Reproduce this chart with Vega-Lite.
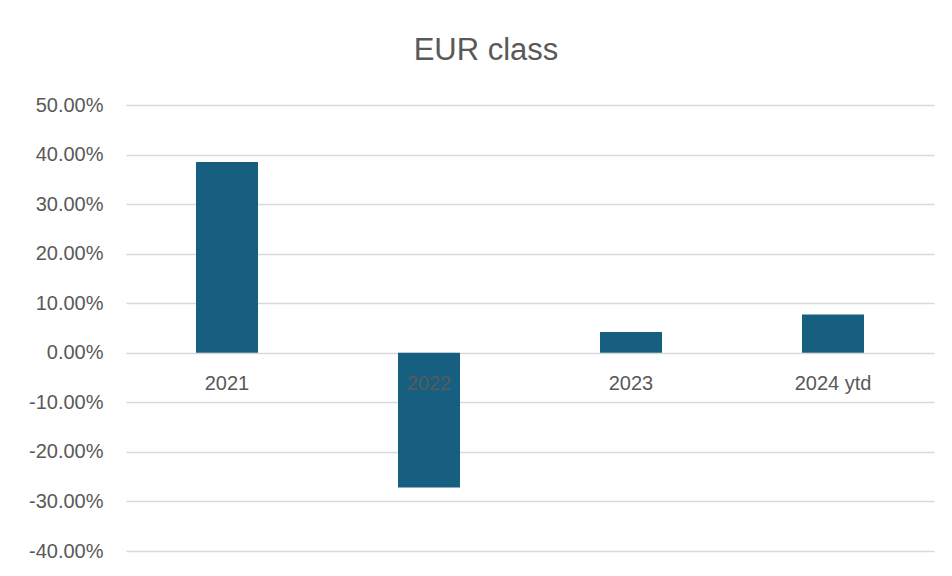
{
  "$schema": "https://vega.github.io/schema/vega-lite/v6.json",
  "autosize": {"type": "none"},
  "width": 808,
  "height": 446,
  "padding": {"left": 126, "top": 105, "right": 18, "bottom": 25},
  "background": "white",
  "config": {"view": {"stroke": null}, "font": "Liberation Sans"},
  "title": {"text": "EUR class", "fontSize": 31, "fontWeight": "normal", "color": "#595959", "anchor": "middle", "frame": "group", "dx": -44, "offset": 28, "font": "Liberation Sans"},
  "data": {"values": [
    {"year": "2021", "ret": 0.385},
    {"year": "2022", "ret": -0.272},
    {"year": "2023", "ret": 0.042},
    {"year": "2024 ytd", "ret": 0.077}
  ]},
  "encoding": {
    "x": {"field": "year", "type": "nominal", "sort": null,
      "scale": {"paddingInner": 0.693, "paddingOuter": 0.3465},
      "axis": null}
  },
  "layer": [
    {
      "mark": {"type": "bar", "color": "#175f80"},
      "encoding": {
        "y": {"field": "ret", "type": "quantitative",
          "scale": {"domain": [-0.4, 0.5], "nice": false, "zero": false},
          "axis": {"values": [-0.4, -0.3, -0.2, -0.1, 0, 0.1, 0.2, 0.3, 0.4, 0.5], "format": ".2%",
            "labelExpr": "replace(datum.label, '\u2212', '-')", "title": null,
            "domain": false, "ticks": false, "labelPadding": 23, "labelFontSize": 20, "labelColor": "#595959",
            "gridColor": "#d9d9d9", "gridWidth": 1.5, "labelFont": "Liberation Sans"}}
      }
    },
    {
      "mark": {"type": "text", "dy": 31, "fontSize": 20, "color": "#595959", "font": "Liberation Sans"},
      "encoding": {
        "y": {"datum": 0, "type": "quantitative"},
        "text": {"field": "year"}
      }
    }
  ]
}
